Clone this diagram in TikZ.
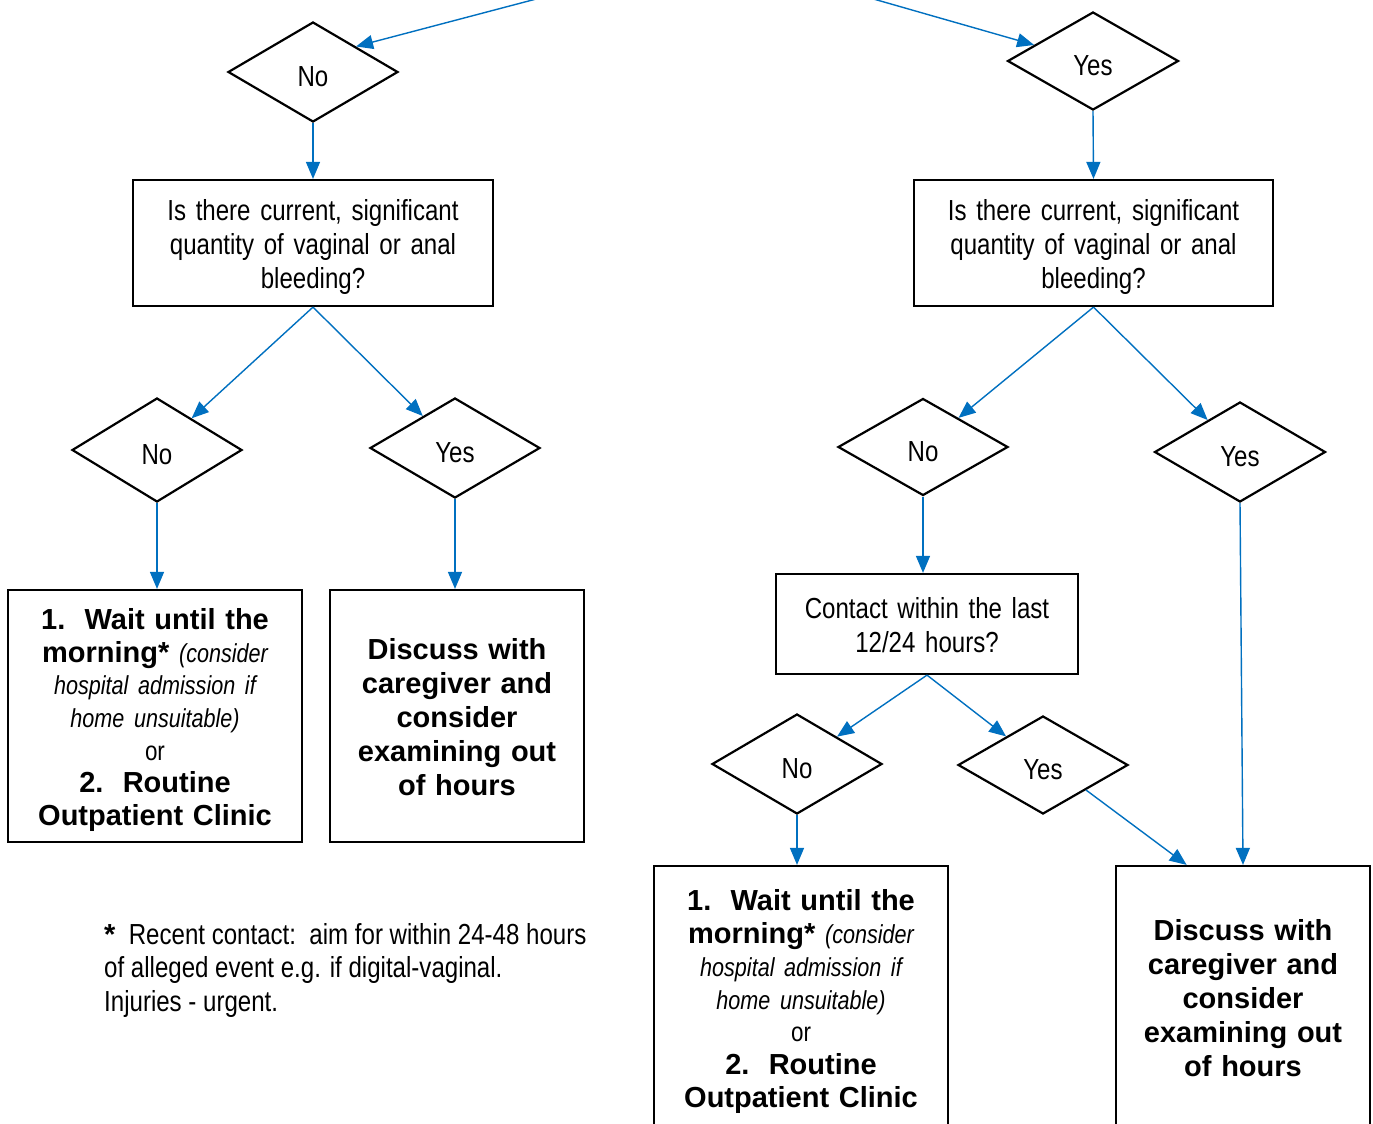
\documentclass[tikz,border=0pt]{standalone}
\usepackage{fontspec}
\setmainfont{Liberation Sans}
\newfontfamily\nar[FakeStretch=0.83]{Liberation Sans}
\usetikzlibrary{shapes.geometric,arrows.meta,calc}
\definecolor{arrblue}{RGB}{0,112,192}
\newcommand\bw{\rmfamily\bfseries}
\begin{document}
\begin{tikzpicture}[x=1pt,y=-1pt,
  dia/.style={draw=black, line width=2.2pt, diamond, minimum width=170pt, minimum height=100pt, inner sep=0pt, text height=28pt, text depth=0pt, font=\nar\fontsize{29}{34}\selectfont},
  frame/.style={draw=black, line width=2.2pt, rectangle, inner sep=0pt},
  qtext/.style={inner sep=0pt, align=center, font=\nar\fontsize{29}{34}\selectfont},
  btext/.style={inner sep=0pt, align=center, font=\bw\fontsize{29}{34}\selectfont},
  arr/.style={draw=arrblue, line width=1.4pt, -{Triangle[length=17pt,width=14pt]}},
  note/.style={inner sep=0pt, align=left, anchor=north west, font=\nar\fontsize{29}{33.5}\selectfont},
]
\fill[white] (0,0) rectangle (1373,1124);
\clip (0,0) rectangle (1373,1124);

% diamonds
\node[dia] (d1) at (313,72) {No};
\node[dia, minimum height=98pt, minimum width=171pt] (d2) at (1093,61) {Yes};
\node[dia, minimum height=104pt] (d3) at (157,450) {No};
\node[dia] (d4) at (455,448) {Yes};
\node[dia, minimum height=97pt] (d5) at (923,447) {No};
\node[dia, minimum width=171pt] (d6) at (1240,452) {Yes};
\node[dia] (d7) at (797,764) {No};
\node[dia, minimum height=98pt] (d8) at (1043,765) {Yes};

% question boxes
\node[frame, minimum width=360pt, minimum height=126pt] (qa) at (313,243) {};
\node[qtext, text width=350pt] (qat) at (313,247)
  {Is there current, significant\\ quantity of vaginal or anal\\ bleeding?};
\node[frame, minimum width=359pt, minimum height=126pt] (qb) at (1093.5,243) {};
\node[qtext, text width=350pt] (qbt) at (1093.5,247)
  {Is there current, significant\\ quantity of vaginal or anal\\ bleeding?};
\node[frame, minimum width=302pt, minimum height=100pt] (qe) at (927,624) {};
\node[qtext, text width=290pt] (qet) at (927,625)
  {Contact within the last\\ 12/24 hours?};

% outcome boxes
\node[frame, minimum width=294pt, minimum height=252pt] (bc) at (155,716) {};
\node[btext, text width=285pt, font=\bw\fontsize{29}{32.7}\selectfont] (bct) at (155,720)
  {1.\ \ Wait until the\\ morning* {\nar\mdseries\itshape\fontsize{26}{32.7}\selectfont(consider\\ hospital admission if\\ home unsuitable)}\\
   {\nar\mdseries\fontsize{27}{32.7}\selectfont or}\\ 2.\ \ Routine\\ Outpatient Clinic};
\node[frame, minimum width=254pt, minimum height=252pt] (bd) at (457,716) {};
\node[btext, text width=245pt] (bdt) at (457,717.5)
  {Discuss with\\ caregiver and\\ consider\\ examining out\\ of hours};
\node[frame, minimum width=294pt, minimum height=264pt] (bf) at (801,998) {};
\node[btext, text width=285pt, font=\bw\fontsize{29}{32.7}\selectfont] (bft) at (801,1001.5)
  {1.\ \ Wait until the\\ morning* {\nar\mdseries\itshape\fontsize{26}{32.7}\selectfont(consider\\ hospital admission if\\ home unsuitable)}\\
   {\nar\mdseries\fontsize{27}{32.7}\selectfont or}\\ 2.\ \ Routine\\ Outpatient Clinic};
\node[frame, minimum width=254pt, minimum height=264pt] (bg) at (1243,998) {};
\node[btext, text width=245pt] (bgt) at (1243,998)
  {Discuss with\\ caregiver and\\ consider\\ examining out\\ of hours};

% footnote
\node[note] (fn) at (104,923)
  {{\bw *}\ \ Recent contact:\ \ aim for within 24-48 hours\\ of alleged event e.g. if digital-vaginal.\\ Injuries - urgent.};

% connectors
\coordinate (inL) at (540,-2);
\coordinate (inR) at (870,-2);
\draw[arr] (inL) -- (d1.north east);
\draw[arr] (inR) -- ($(d2.west)!0.32!(d2.north)$);
\draw[arr] (d1.south) -- (qa.north);
\draw[arr] (d2.south) -- (qb.north);
\draw[arr] (qa.south) -- (d3);
\draw[arr] (qa.south) -- (d4);
\draw[arr] (d3.south) -- (d3.south |- bc.north);
\draw[arr] (d4.south) -- (d4.south |- bd.north);
\draw[arr] (qb.south) -- (d5);
\draw[arr] (qb.south) -- (d6);
\draw[arr] (d5.south) -- (d5.south |- qe.north);
\draw[arr] (d6.south) -- (bg.north);
\draw[arr] (qe.south) -- (d7);
\draw[arr] (qe.south) -- (d8);
\draw[arr] (d7.south) -- (d7.south |- bf.north);
\draw[arr] (d8.south east) -- ($(bg.north west)!0.28!(bg.north east)$);
\end{tikzpicture}
\end{document}
